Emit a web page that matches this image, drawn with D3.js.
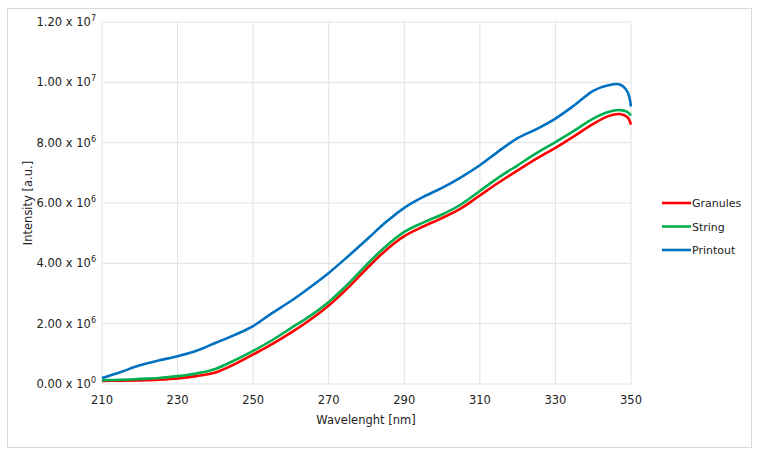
<!DOCTYPE html>
<html><head><meta charset="utf-8">
<script src="https://cdn.jsdelivr.net/npm/d3@7"></script>
<style>body{margin:0;background:#fff}svg{display:block}text{font-family:"DejaVu Sans",Verdana,sans-serif;fill:#222}</style>
</head><body><svg id="c" width="759" height="455"></svg>
<script>
const wavelengths = [210,215,220,225,230,235,240,245,250,255,260,265,270,275,280,285,290,295,300,305,310,315,320,325,330,335,340,344,347,349,350];
const granules = [0.10,0.11,0.12,0.14,0.18,0.26,0.38,0.65,0.98,1.32,1.70,2.12,2.60,3.18,3.82,4.42,4.90,5.22,5.50,5.82,6.25,6.68,7.08,7.47,7.83,8.22,8.62,8.88,8.95,8.85,8.60];
const string = [0.13,0.14,0.17,0.20,0.26,0.35,0.50,0.78,1.10,1.45,1.85,2.25,2.72,3.30,3.95,4.55,5.04,5.35,5.62,5.95,6.40,6.85,7.25,7.65,8.02,8.40,8.80,9.02,9.08,9.02,8.90];
const printout = [0.20,0.40,0.62,0.78,0.92,1.10,1.36,1.62,1.92,2.35,2.75,3.20,3.68,4.22,4.78,5.35,5.84,6.20,6.50,6.85,7.25,7.72,8.15,8.45,8.80,9.24,9.72,9.90,9.93,9.70,9.20];
const scaleFactor = 1e6;
const xTicks = [210,230,250,270,290,310,330,350];
const yTicks = [0,2e6,4e6,6e6,8e6,1e7,1.2e7];
const yTickMantissa = ["0.00","2.00","4.00","6.00","8.00","1.00","1.20"];
const yTickExp = ["0","6","6","6","6","7","7"];
const seriesNames = ["Granules","String","Printout"];
const seriesColors = ["#ff0000","#00b050","#0070c0"];
const seriesData = [granules,string,printout];

const svg = d3.select("#c");
svg.append("rect").attr("x",7.5).attr("y",8.5).attr("width",744).attr("height",439).attr("fill","none").attr("stroke","#d9d9d9");

const m = {l:102,r:631,t:22,b:384};
const x = d3.scaleLinear().domain([210,350]).range([m.l,m.r]);
const y = d3.scaleLinear().domain([0,1.2e7]).range([m.b,m.t]);

const g = svg.append("g");
g.selectAll(".vg").data(xTicks).join("line").attr("x1",d=>x(d)).attr("x2",d=>x(d)).attr("y1",m.t).attr("y2",m.b).attr("stroke","#e3e3e3");
g.selectAll(".hg").data(yTicks).join("line").attr("x1",m.l).attr("x2",m.r).attr("y1",d=>y(d)).attr("y2",d=>y(d)).attr("stroke","#e3e3e3");

g.selectAll(".xt").data(xTicks).join("text").attr("x",d=>x(d)).attr("y",m.b+20).attr("text-anchor","middle").attr("font-size",11.5).text(d=>d);

const yt = g.selectAll(".yt").data(yTicks).join("text").attr("x",m.l-6).attr("y",d=>y(d)+4).attr("text-anchor","end").attr("font-size",11.5);
yt.append("tspan").text((d,i)=>yTickMantissa[i]+" x 10");
yt.append("tspan").attr("font-size",8).attr("dy",-5).text((d,i)=>yTickExp[i]);

svg.append("text").attr("x",366).attr("y",424).attr("text-anchor","middle").attr("font-size",11.5).text("Wavelenght [nm]");
svg.append("text").attr("transform","translate(32,203) rotate(-90)").attr("text-anchor","middle").attr("font-size",11.5).text("Intensity [a.u.]");

const line = d3.line().x(d=>x(d[0])).y(d=>y(d[1]*scaleFactor)).curve(d3.curveCatmullRom.alpha(0.5));
seriesData.forEach((s,i)=>{
  svg.append("path").datum(wavelengths.map((w,j)=>[w,s[j]])).attr("d",line).attr("fill","none").attr("stroke",seriesColors[i]).attr("stroke-width",2.6).attr("stroke-linejoin","round");
});

const leg = svg.append("g");
seriesNames.forEach((n,i)=>{
  const yy = 203 + i*23.5;
  leg.append("line").attr("x1",662).attr("x2",691).attr("y1",yy).attr("y2",yy).attr("stroke",seriesColors[i]).attr("stroke-width",2.6);
  leg.append("text").attr("x",692).attr("y",yy+4).attr("font-size",11).text(n);
});
</script></body></html>
